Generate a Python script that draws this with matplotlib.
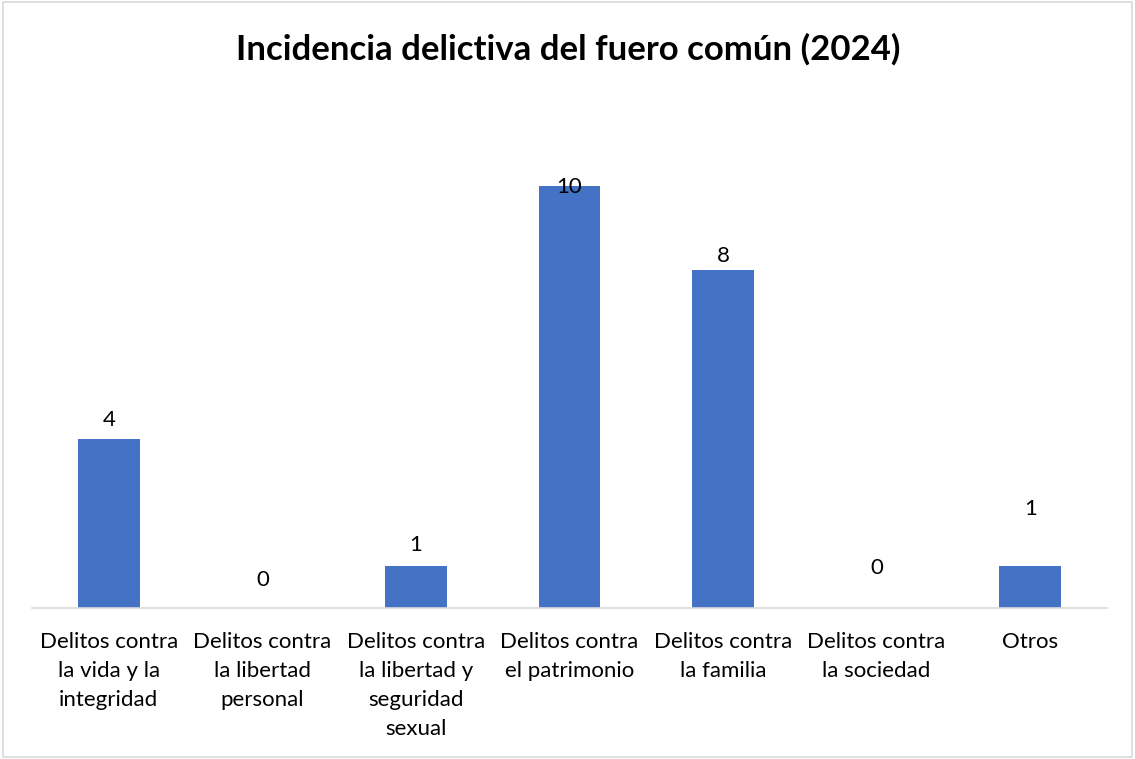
import matplotlib.pyplot as plt
from matplotlib.patches import Rectangle

# Datos del gráfico
categorias = [
    'Delitos contra\nla vida y la\nintegridad',
    'Delitos contra\nla libertad\npersonal',
    'Delitos contra\nla libertad y\nseguridad\nsexual',
    'Delitos contra\nel patrimonio',
    'Delitos contra\nla familia',
    'Delitos contra\nla sociedad',
    'Otros',
]
valores = [4, 0, 1, 10, 8, 0, 1]
titulo = 'Incidencia delictiva del fuero común (2024)'

# Desplazamiento de las etiquetas (en puntos), movidas a mano en el original
desplazamiento = [14, 20, 15, -1, 10, 29, 41]

plt.rcParams['font.family'] = ['Lato', 'DejaVu Sans']

fig = plt.figure(figsize=(11.35, 7.59), dpi=100)
ax = fig.add_axes([0.0282, 0.1989, 0.9471, 0.6673])

x = list(range(len(valores)))
barras = ax.bar(x, valores, width=0.4, color='#4472C4')

for xi, v, d in zip(x, valores, desplazamiento):
    ax.annotate(str(v), (xi, v), xytext=(0, d), textcoords='offset points',
                ha='center', va='center', fontsize=16, color='#000000')

ax.set_xlim(-0.5, len(valores) - 0.5)
ax.set_ylim(0, 12)
ax.set_yticks([])
ax.set_xticks(x)
ax.set_xticklabels(categorias, fontsize=16, linespacing=1.56, color='#000000')
ax.tick_params(axis='x', length=0, pad=17)

for lado in ['top', 'right', 'left']:
    ax.spines[lado].set_visible(False)
ax.spines['bottom'].set_color('#D9D9D9')
ax.spines['bottom'].set_linewidth(1.2)

fig.text(0.501, 0.935, titulo, ha='center', va='center',
         fontsize=25, fontweight='bold', color='#000000')

# Borde del área del gráfico
fig.patches.append(Rectangle((0.003, 0.003), 0.994, 0.994, transform=fig.transFigure,
                             fill=False, edgecolor='#D9D9D9', linewidth=1.2))

plt.savefig('out.png', dpi=100)
